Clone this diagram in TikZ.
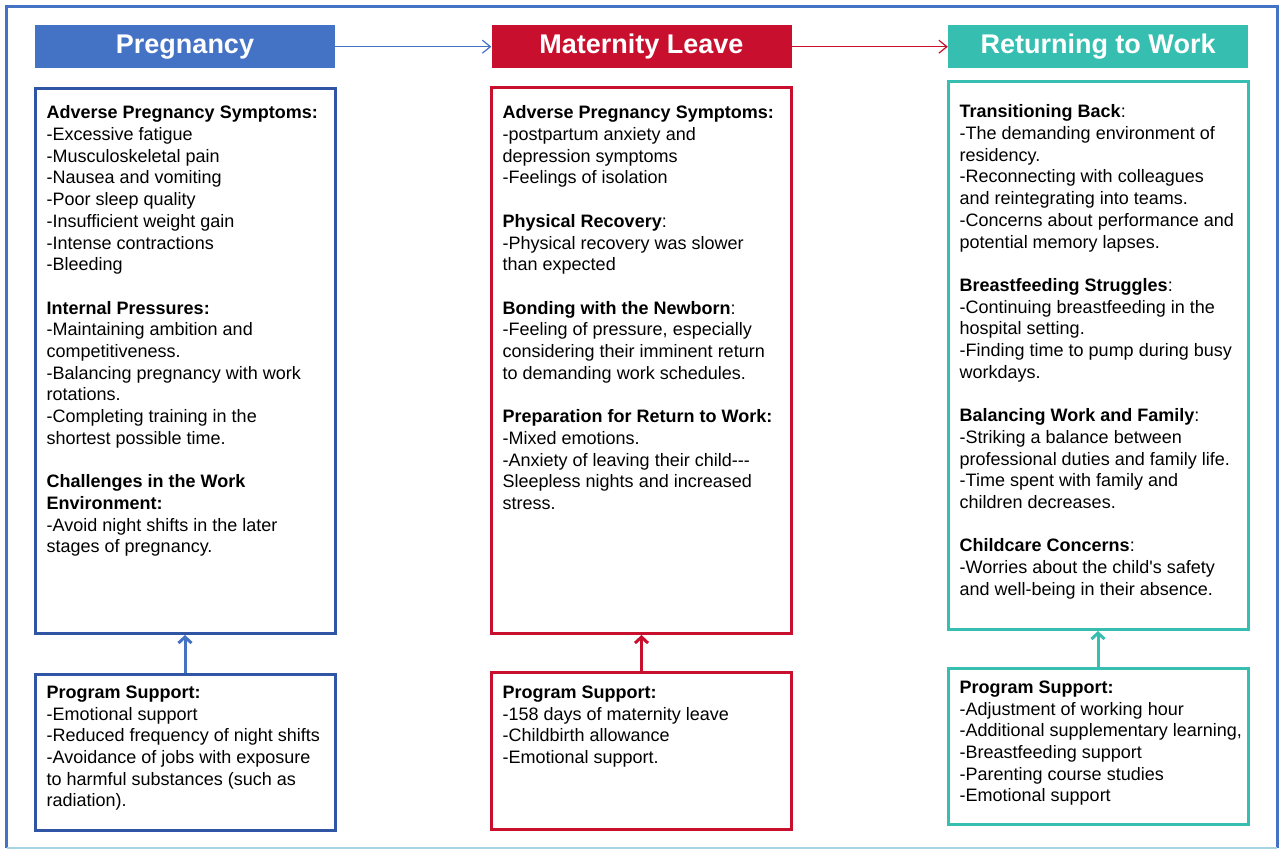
\documentclass[tikz,border=0pt]{standalone}
\usepackage{fontspec}
\setmainfont{Liberation Sans}
\usetikzlibrary{arrows.meta}
\definecolor{pregblue}{HTML}{4472C4}
\definecolor{pregdark}{HTML}{2F55A4}
\definecolor{matred}{HTML}{C8102E}
\definecolor{retteal}{HTML}{36BFB1}
\definecolor{framelight}{HTML}{A8D5E6}
\begin{document}
\begin{tikzpicture}[x=1pt,y=-1pt,>={Straight Barb[length=8pt,width=13pt]},
	head/.style={minimum width=300,minimum height=43.3,inner sep=0,text=white,font=\fontsize{27}{30}\selectfont\bfseries},
	box/.style={draw,line width=3,minimum width=300,inner sep=0,anchor=north},
	txt/.style={anchor=north west,inner sep=0,align=left,font=\fontsize{18}{21.7}\selectfont}]
			\useasboundingbox (0,0) rectangle (1282,850);
			\draw[pregblue,line width=3] (6.5,848) -- (6.5,6.5) -- (1277,6.5) -- (1277,848);
			\draw[framelight,line width=2] (6.5,848) -- (1277,848);
			% stage headers
			\node[head,fill=pregblue] (preg) at (185,46.7) {Pregnancy};
			\node[head,fill=matred] (mat) at (641.5,46.7) {Maternity Leave};
			\node[head,fill=retteal] (ret) at (1098,46.7) {Returning to Work};
			\draw[->,pregblue,line width=1.2] (preg) -- (mat);
			\draw[->,matred,line width=1.2] (mat) -- (ret);
			% challenge boxes
			\node[box,draw=pregdark,minimum height=545] (pregbox) at (185,87) {};
			\node[box,draw=matred,minimum height=546] (matbox) at (641.5,86) {};
			\node[box,draw=retteal,minimum height=547.5] (retbox) at (1098,80.5) {};
			% support boxes
			\node[box,draw=pregdark,minimum height=156] (pregsup) at (185,672.5) {};
			\node[box,draw=matred,minimum height=157] (matsup) at (641.5,670.5) {};
			\node[box,draw=retteal,minimum height=156] (retsup) at (1098,666.5) {};
			\foreach \a/\b/\c in {pregsup/pregbox/pregblue,matsup/matbox/matred,retsup/retbox/retteal}
			\draw[->,line width=3,\c,>={Straight Barb[length=6pt,width=13pt]}] (\a) -- (\b);
			% texts
			\node[txt] (pregtxt) at (46.5,105.6) {\textbf{Adverse Pregnancy Symptoms:}\\
				-Excessive fatigue\\ -Musculoskeletal pain\\ -Nausea and vomiting\\ -Poor sleep quality\\
				-Insufficient weight gain\\ -Intense contractions\\ -Bleeding\\[\baselineskip]
				\textbf{Internal Pressures:}\\ -Maintaining ambition and\\ competitiveness.\\
				-Balancing pregnancy with work\\ rotations.\\ -Completing training in the\\
				shortest possible time.\\[\baselineskip]
				\textbf{Challenges in the Work}\\ \textbf{Environment:}\\
				-Avoid night shifts in the later\\ stages of pregnancy.};
			\node[txt] (mattxt) at (502.5,105.6) {\textbf{Adverse Pregnancy Symptoms:}\\
				-postpartum anxiety and\\ depression symptoms\\ -Feelings of isolation\\[\baselineskip]
				\textbf{Physical Recovery}:\\ -Physical recovery was slower\\ than expected\\[\baselineskip]
				\textbf{Bonding with the Newborn}:\\ -Feeling of pressure, especially\\
				considering their imminent return\\ to demanding work schedules.\\[\baselineskip]
				\textbf{Preparation for Return to Work:}\\ -Mixed emotions.\\
				-Anxiety of leaving their child-{}-{}-\\ Sleepless nights and increased\\ stress.};
			\node[txt] (rettxt) at (959.5,104.6) {\textbf{Transitioning Back}:\\
				-The demanding environment of\\ residency.\\ -Reconnecting with colleagues\\
				and reintegrating into teams.\\ -Concerns about performance and\\
				potential memory lapses.\\[\baselineskip]
				\textbf{Breastfeeding Struggles}:\\ -Continuing breastfeeding in the\\ hospital setting.\\
				-Finding time to pump during busy\\ workdays.\\[\baselineskip]
				\textbf{Balancing Work and Family}:\\ -Striking a balance between\\
				professional duties and family life.\\ -Time spent with family and\\
				children decreases.\\[\baselineskip]
				\textbf{Childcare Concerns}:\\ -Worries about the child\textquotesingle s safety\\
				and well-being in their absence.};
			\node[txt] (pregsuptxt) at (46.5,685.6) {\textbf{Program Support:}\\
				-Emotional support\\ -Reduced frequency of night shifts\\
				-Avoidance of jobs with exposure\\ to harmful substances (such as\\ radiation).};
			\node[txt] (matsuptxt) at (502.5,685.6) {\textbf{Program Support:}\\
				-158 days of maternity leave\\ -Childbirth allowance\\ -Emotional support.};
			\node[txt] (retsuptxt) at (959.5,680.6) {\textbf{Program Support:}\\
				-Adjustment of working hour\\ -Additional supplementary learning,\\
				-Breastfeeding support\\ -Parenting course studies\\ -Emotional support};
\end{tikzpicture}
\end{document}
